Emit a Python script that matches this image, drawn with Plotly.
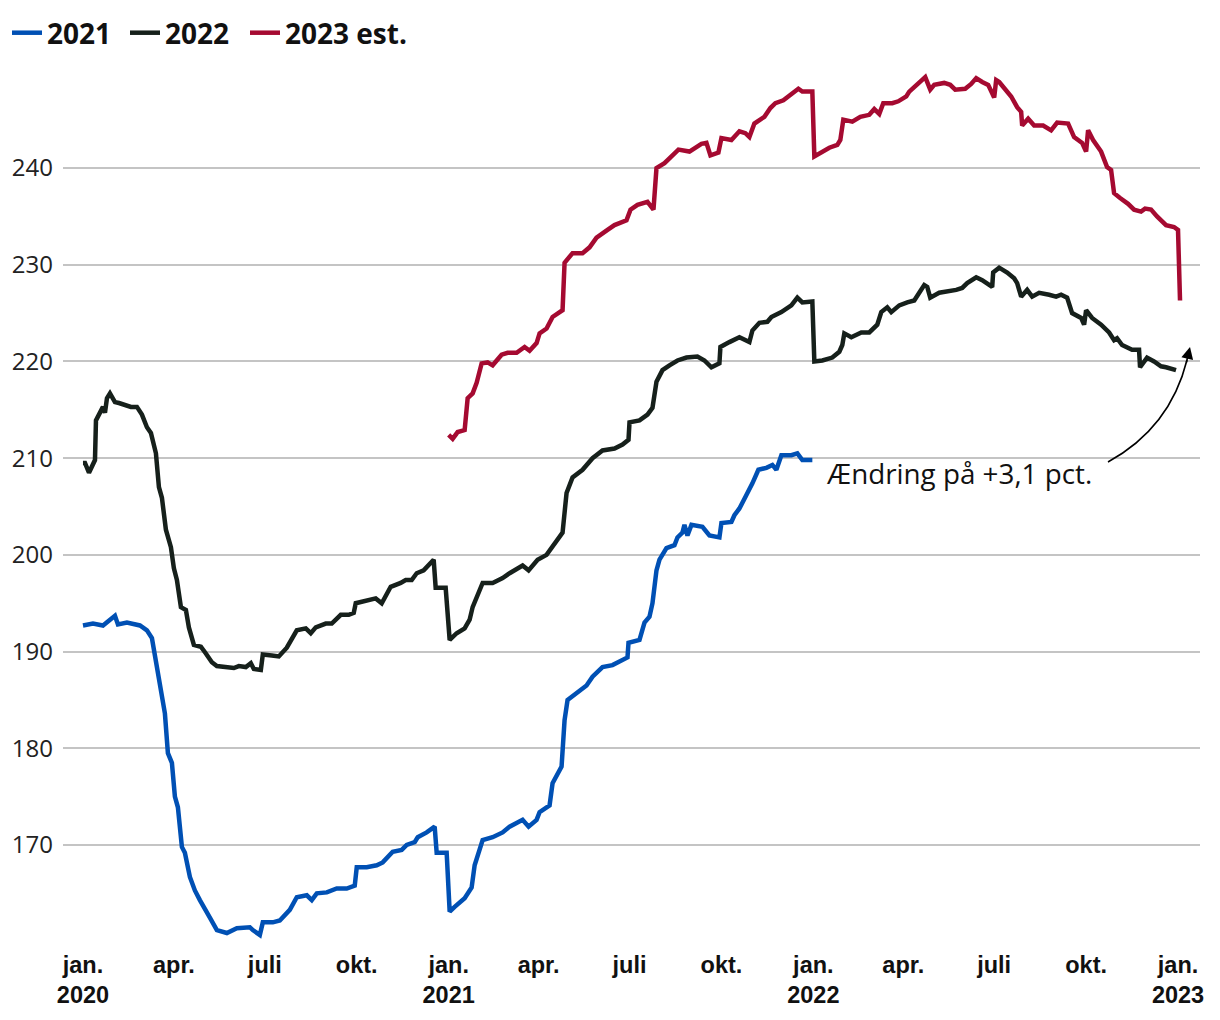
import plotly.graph_objects as go

# ---- data ----
dates_2021 = ["2020-01-01","2020-01-11","2020-01-21","2020-02-02","2020-02-05","2020-02-14","2020-02-27",
"2020-03-05","2020-03-10","2020-03-15","2020-03-20","2020-03-23","2020-03-26","2020-03-30","2020-04-02",
"2020-04-05","2020-04-09","2020-04-12","2020-04-17","2020-04-22","2020-04-27","2020-05-02","2020-05-07",
"2020-05-14","2020-05-24","2020-06-03","2020-06-16","2020-06-19","2020-06-26","2020-06-29","2020-07-09",
"2020-07-16","2020-07-26","2020-08-02","2020-08-12","2020-08-17","2020-08-22","2020-09-01","2020-09-11",
"2020-09-21","2020-09-29","2020-10-01","2020-10-11","2020-10-21","2020-10-27","2020-11-06","2020-11-15",
"2020-11-20","2020-11-28","2020-12-01","2020-12-10","2020-12-18","2020-12-20","2020-12-30",
"2021-01-02","2021-01-07","2021-01-17","2021-01-24","2021-01-27","2021-02-04","2021-02-14","2021-02-24",
"2021-03-03","2021-03-16","2021-03-22","2021-03-30","2021-04-02","2021-04-12","2021-04-15","2021-04-24",
"2021-04-27","2021-04-30","2021-05-09","2021-05-19","2021-05-25","2021-06-04","2021-06-14","2021-06-24",
"2021-06-29","2021-06-30","2021-07-11","2021-07-16","2021-07-21","2021-07-24","2021-07-28","2021-07-31",
"2021-08-07","2021-08-15","2021-08-18","2021-08-23","2021-08-25","2021-08-28","2021-09-01","2021-09-12",
"2021-09-19","2021-09-29","2021-10-01","2021-10-11","2021-10-14","2021-10-19","2021-10-22","2021-10-26",
"2021-11-01","2021-11-07","2021-11-15","2021-11-21","2021-11-25","2021-11-30","2021-12-10","2021-12-16",
"2021-12-21","2021-12-31"]
values_2021 = [192.7,192.9,192.7,193.7,192.8,193.0,192.7,
192.2,191.4,188.4,185.0,183.6,179.5,178.5,175.0,
173.9,169.8,169.2,166.7,165.3,164.3,163.3,162.5,
161.2,160.9,161.4,161.5,161.2,160.7,162.0,162.0,
162.2,163.3,164.6,164.8,164.3,165.0,165.1,165.5,
165.5,165.8,167.7,167.7,167.9,168.2,169.3,169.5,
170.0,170.3,170.8,171.3,171.9,169.2,169.2,
163.1,163.6,164.5,165.6,167.9,170.5,170.8,171.3,
171.9,172.6,171.9,172.6,173.4,174.1,176.4,178.1,
182.9,185.0,185.7,186.5,187.4,188.4,188.6,189.1,
189.4,190.9,191.2,193.0,193.6,195.0,198.4,199.5,
200.7,201.0,201.8,202.3,203.1,202.0,203.1,202.9,
202.0,201.8,203.3,203.4,204.1,204.8,205.5,206.2,
207.4,208.8,209.0,209.3,208.8,210.3,210.3,210.5,
209.8,209.8]

dates_2022 = ["2020-01-01","2020-01-03","2020-01-07","2020-01-11","2020-01-13","2020-01-14","2020-01-18",
"2020-01-21","2020-01-23","2020-01-25","2020-01-28","2020-02-02","2020-02-06","2020-02-11","2020-02-18",
"2020-02-24","2020-02-29","2020-03-05","2020-03-09","2020-03-14","2020-03-17","2020-03-20","2020-03-24",
"2020-03-29","2020-04-01","2020-04-04","2020-04-08","2020-04-13","2020-04-16","2020-04-21","2020-04-28",
"2020-05-03","2020-05-09","2020-05-14","2020-05-23","2020-05-31","2020-06-05","2020-06-12","2020-06-17",
"2020-06-20","2020-06-27","2020-06-29","2020-07-08","2020-07-15","2020-07-23","2020-07-28","2020-08-02",
"2020-08-11","2020-08-16","2020-08-21","2020-08-31","2020-09-06","2020-09-15","2020-09-23","2020-09-28",
"2020-09-30","2020-10-10","2020-10-20","2020-10-26","2020-11-04","2020-11-14","2020-11-19","2020-11-25",
"2020-11-30","2020-12-07","2020-12-17","2020-12-19","2020-12-29",
"2021-01-02","2021-01-09","2021-01-17","2021-01-22","2021-01-25","2021-02-04","2021-02-14","2021-02-24",
"2021-03-03","2021-03-16","2021-03-22","2021-03-31","2021-04-09","2021-04-19","2021-04-25","2021-04-29",
"2021-05-05","2021-05-15","2021-05-25","2021-06-04","2021-06-16","2021-06-24","2021-06-30","2021-07-01",
"2021-07-11","2021-07-19","2021-07-24","2021-07-28","2021-08-03","2021-08-10","2021-08-18","2021-08-27",
"2021-09-07","2021-09-14","2021-09-21","2021-09-29","2021-09-30","2021-10-09","2021-10-19","2021-10-29",
"2021-11-01","2021-11-08","2021-11-16","2021-11-20","2021-11-30","2021-12-10","2021-12-16","2021-12-21",
"2021-12-31",
"2022-01-02","2022-01-10","2022-01-20","2022-01-27","2022-01-30","2022-02-01","2022-02-08","2022-02-18",
"2022-02-26","2022-03-06","2022-03-10","2022-03-16","2022-03-20","2022-03-28","2022-04-05","2022-04-12",
"2022-04-17","2022-04-22","2022-04-25","2022-04-28","2022-05-07","2022-05-15","2022-05-24","2022-05-30",
"2022-06-04","2022-06-13","2022-06-19","2022-06-29","2022-06-30","2022-07-06","2022-07-14","2022-07-21",
"2022-07-24","2022-07-28","2022-08-03","2022-08-08","2022-08-15","2022-08-25","2022-09-01","2022-09-06",
"2022-09-12","2022-09-17","2022-09-26","2022-09-29","2022-10-01","2022-10-07","2022-10-16","2022-10-24",
"2022-10-29","2022-11-01","2022-11-06","2022-11-16","2022-11-23","2022-11-24","2022-12-01","2022-12-08",
"2022-12-15","2022-12-20","2022-12-30"]
values_2022 = [209.5,209.5,208.5,209.3,209.8,213.9,214.7,
215.3,214.7,216.2,216.7,215.8,215.7,215.5,215.3,
215.3,214.5,213.2,212.6,210.5,207.0,205.9,202.6,
200.8,198.6,197.4,194.6,194.3,192.5,190.7,190.5,
189.8,188.9,188.5,188.4,188.3,188.5,188.4,188.8,
188.2,188.1,189.7,189.6,189.5,190.4,191.4,192.2,
192.4,191.9,192.5,192.9,192.9,193.8,193.8,194.0,
195.0,195.3,195.5,195.0,196.7,197.1,197.4,197.4,
198.1,198.4,199.5,196.6,196.6,
191.2,191.9,192.4,193.3,194.6,197.1,197.1,197.6,
198.1,198.9,198.4,199.5,200.0,201.5,202.3,206.4,
208.0,208.8,210.0,210.8,211.0,211.4,211.9,213.7,
213.9,214.5,215.2,217.9,219.1,219.6,220.1,220.4,
220.5,220.1,219.4,219.8,221.5,222.0,222.5,222.0,
223.2,224.0,224.1,224.6,225.1,225.8,226.6,226.1,
226.2,
220.0,220.1,220.4,221.0,221.7,222.9,222.5,223.0,
223.0,223.8,225.1,225.6,225.1,225.8,226.1,226.3,
227.1,227.9,227.7,226.6,227.1,227.2,227.4,227.6,
228.1,228.7,228.4,227.7,229.2,229.7,229.2,228.6,
228.1,226.7,227.4,226.7,227.1,226.9,226.7,226.9,
226.6,225.0,224.5,223.8,225.3,224.5,223.8,223.0,
222.2,222.4,221.7,221.2,221.2,219.4,220.4,220.0,
219.5,219.4,219.1]

dates_2023 = ["2021-01-01","2021-01-05","2021-01-10","2021-01-17","2021-01-20","2021-01-25","2021-01-29",
"2021-02-03","2021-02-09","2021-02-14","2021-02-23","2021-03-01","2021-03-10","2021-03-18","2021-03-23",
"2021-03-30","2021-04-02","2021-04-09","2021-04-15","2021-04-22","2021-04-25","2021-04-27","2021-05-05",
"2021-05-15","2021-05-22","2021-05-29","2021-06-04","2021-06-09","2021-06-16","2021-06-28","2021-07-02",
"2021-07-09","2021-07-19","2021-07-25","2021-07-28","2021-08-05","2021-08-11","2021-08-19","2021-08-30",
"2021-09-11","2021-09-16","2021-09-20","2021-09-28","2021-10-01","2021-10-11","2021-10-19","2021-10-25",
"2021-10-29","2021-11-03","2021-11-13","2021-11-19","2021-11-24","2021-12-02","2021-12-08","2021-12-17",
"2021-12-21","2021-12-31",
"2022-01-02","2022-01-11","2022-01-17","2022-01-25","2022-01-28","2022-01-31","2022-02-09","2022-02-17",
"2022-02-26","2022-03-03","2022-03-08","2022-03-12","2022-03-21","2022-03-27","2022-04-04","2022-04-07",
"2022-04-15","2022-04-23","2022-04-28","2022-05-02","2022-05-12","2022-05-18","2022-05-23","2022-06-02",
"2022-06-08","2022-06-13","2022-06-19","2022-06-25","2022-07-01","2022-07-03","2022-07-06","2022-07-12",
"2022-07-18","2022-07-24","2022-07-28","2022-07-29","2022-08-04","2022-08-10","2022-08-19","2022-08-27",
"2022-09-02","2022-09-13","2022-09-19","2022-09-27","2022-10-01","2022-10-03","2022-10-08","2022-10-16",
"2022-10-22","2022-10-26","2022-10-29","2022-11-04","2022-11-12","2022-11-18","2022-11-25","2022-11-29",
"2022-12-05","2022-12-11","2022-12-20","2022-12-28","2023-01-01","2023-01-03"]
values_2023 = [212.4,212.0,212.7,212.9,216.2,216.7,217.8,
219.8,219.9,219.6,220.7,220.9,220.9,221.5,221.1,
221.9,222.9,223.4,224.6,225.1,225.3,230.2,231.2,
231.2,231.8,232.8,233.3,233.6,234.1,234.6,235.7,
236.2,236.5,235.7,240.0,240.5,241.1,241.9,241.7,
242.5,242.6,241.3,241.6,243.1,242.9,243.8,243.6,
243.2,244.6,245.3,246.2,246.7,247.0,247.5,248.2,
247.9,247.9,
241.2,241.7,242.1,242.4,242.9,245.0,244.8,245.3,
245.5,246.1,245.6,246.7,246.7,246.9,247.4,247.9,
248.6,249.4,248.1,248.6,248.8,248.6,248.1,248.2,
248.7,249.3,248.9,248.6,247.3,249.1,248.9,248.1,
247.4,246.3,245.8,244.4,245.1,244.4,244.4,243.9,
244.7,244.6,243.2,242.6,241.7,243.9,242.9,241.7,
240.1,239.8,237.4,236.9,236.3,235.7,235.5,235.8,
235.7,235.0,234.1,233.9,233.6,226.3]

x_tickvals = ["2020-01-01","2020-04-01","2020-07-01","2020-10-01","2021-01-01","2021-04-01","2021-07-01",
"2021-10-01","2022-01-01","2022-04-01","2022-07-01","2022-10-01","2023-01-01"]
x_ticktext = ["jan.<br>2020","apr.","juli","okt.","jan.<br>2021","apr.","juli","okt.","jan.<br>2022",
"apr.","juli","okt.","jan.<br>2023"]
y_tickvals = [170, 180, 190, 200, 210, 220, 230, 240]

series = [
    ("2021", dates_2021, values_2021, "#0050b4", "legend"),
    ("2022", dates_2022, values_2022, "#16201b", "legend2"),
    ("2023 est.", dates_2023, values_2023, "#a50a31", "legend3"),
]

fig = go.Figure()
for name, d, v, c, lg in series:
    fig.add_trace(go.Scatter(x=d, y=v, mode="lines", name=name, legend=lg,
                             line=dict(color=c, width=4.5)))

# The page body has an 8px margin; positions below are in window pixels.
OFF = 8
Lw, Rw, Tw, Bw = 63, 1200, 60, 945
FW, FH = 1204, 1004
def px(xw): return (xw - Lw) / (Rw - Lw)
def py(yw): return (Bw - yw) / (Bw - Tw)

legend_font = dict(family="Open Sans", size=28, color="#111111", weight="bold")
def legend_at(xw):
    return dict(orientation="h", x=px(xw), xanchor="left", y=py(33), yanchor="middle",
                font=legend_font, itemwidth=30, bgcolor="rgba(0,0,0,0)")

fig.update_layout(
    width=FW, height=FH,
    margin=dict(l=Lw - OFF, r=FW - (Rw - OFF), t=Tw - OFF, b=FH - (Bw - OFF), autoexpand=False),
    plot_bgcolor="white", paper_bgcolor="white",
    showlegend=True,
    legend=legend_at(7),
    legend2=legend_at(125),
    legend3=legend_at(245),
    xaxis=dict(type="date", range=["2019-12-12", "2023-01-23"], automargin=False,
               tickvals=x_tickvals, ticktext=x_ticktext, showgrid=False, zeroline=False,
               showline=False, ticks="", ticklabelstandoff=3,
               tickfont=dict(family="Liberation Sans", size=23.5, color="#111111", weight="bold")),
    yaxis=dict(range=[159.66, 251.17], tickvals=y_tickvals, showgrid=True, automargin=False,
               gridcolor="#c4c4c4", gridwidth=1.5, zeroline=False, showline=False, ticks="",
               ticklabelstandoff=9,
               tickfont=dict(family="Open Sans", size=24, color="#222222")),
    annotations=[
        dict(x="2022-01-12", y=208.5, xref="x", yref="y", text="Ændring på +3,1 pct.",
             showarrow=False, xanchor="left", yanchor="middle",
             font=dict(family="Open Sans", size=27.8, color="#111111")),
        dict(x=px(1190), y=py(347), xref="paper", yref="paper", ax=-4, ay=17,
             axref="pixel", ayref="pixel", text="", showarrow=True,
             arrowhead=2, arrowsize=1.5, arrowwidth=1.6, arrowcolor="#000000", standoff=0),
    ],
    shapes=[
        dict(type="path", xref="paper", yref="paper",
             path=f"M {px(1108)},{py(462)} Q {px(1170)},{py(428)} {px(1187)},{py(360)}",
             line=dict(color="#000000", width=1.6)),
    ],
)

fig.write_html("out.html")
